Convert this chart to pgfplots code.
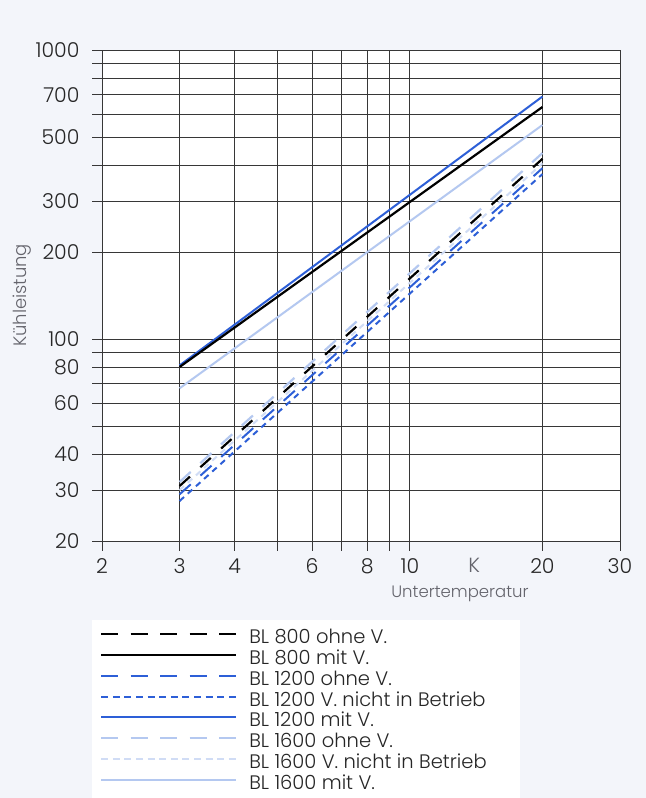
\documentclass[border=0pt]{standalone}
\usepackage{fontspec}
\IfFontExistsTF{Poppins Light}{\setmainfont{Poppins Light}}{\setmainfont{Poppins}}
\usepackage{pgfplots}
\pgfplotsset{compat=1.18}
\definecolor{cblue}{RGB}{45,95,215}
\definecolor{clight}{RGB}{180,200,240}
\definecolor{clighter}{RGB}{208,220,245}
\definecolor{gridc}{RGB}{55,55,55}
\definecolor{labc}{RGB}{100,100,108}
\definecolor{bgc}{RGB}{243,245,250}
\begin{document}
\begin{tikzpicture}[x=1bp,y=1bp]
\path[use as bounding box, fill=bgc] (0,0) rectangle (646,798);
\fill[white] (92,0) rectangle (520,178);
\begin{axis}[
 at={(102bp,257bp)}, anchor=south west,
 scale only axis, width=518bp, height=491bp,
 xmode=log, ymode=log,
 xmin=2, xmax=30, ymin=20, ymax=1000,
 axis background/.style={fill=white},
 xtick={2,3,4,5,6,7,8,9,10,20,30},
 xticklabels={2,3,4,,6,,8,,10,20,30},
 ytick={20,30,40,50,60,70,80,90,100,200,300,400,500,600,700,800,900,1000},
 yticklabels={20,30,40,,60,,80,,100,200,300,,500,,700,,,1000},
 minor xtick={}, minor ytick={},
 extra x ticks={14}, extra x tick labels={K},
 extra x tick style={grid=none, major tick style={draw=none}, tick label style={text=labc}},
 grid=major, grid style={gridc, line width=0.9bp},
 axis line style={gridc, line width=0.9bp},
 tick style={gridc, line width=0.9bp},
 tick align=outside, tick pos=left, major tick length=10bp,
 /pgf/number format/assume math mode=true,
 tick label style={font=\fontsize{20.5bp}{23bp}\selectfont, text=black!85},
 xticklabel style={yshift=-4bp},
 yticklabel style={xshift=-9bp},
 xlabel={Untertemperatur}, ylabel={Kühleistung},
 label style={text=labc},
 xlabel style={font=\fontsize{16.5bp}{18bp}\selectfont, at={(axis description cs:0.691,-0.108)}, anchor=center},
 ylabel style={font=\fontsize{18bp}{20bp}\selectfont, at={(axis description cs:-0.155,0.5)}, anchor=center},
 legend style={at={(axis description cs:-0.004,-0.1784)}, anchor=north west,
   draw=none, fill=none, font=\fontsize{19.5bp}{21bp}\selectfont, text=black!85,
   cells={anchor=west}, row sep=0pt, inner sep=0pt,
   nodes={inner sep=1bp, text height=14bp, text depth=4.8bp}},
 legend image code/.code={\draw[#1] (0bp,5bp) -- (135bp,5bp); \path (146bp,5bp);},
]
% drawn in stacking order
\addplot[clighter, line width=2bp, dash pattern=on 6bp off 5bp, forget plot] coordinates {(3,30) (20,405)};
\addplot[clight, line width=2.2bp, dash pattern=on 15bp off 13bp, forget plot] coordinates {(3,32) (20,440)};
\addplot[cblue, line width=2bp, dash pattern=on 15bp off 13bp, forget plot] coordinates {(3,29) (20,390)};
\addplot[cblue, line width=2bp, dash pattern=on 6bp off 5bp, forget plot] coordinates {(3,27.5) (20,372)};
\addplot[black, line width=2.2bp, dash pattern=on 14bp off 14bp, forget plot] coordinates {(3,31) (20,420)};
\addplot[clight, line width=2bp, forget plot] coordinates {(3,67.5) (20,550)};
\addplot[cblue, line width=2bp, forget plot] coordinates {(3,81) (20,690)};
\addplot[black, line width=2.2bp, forget plot] coordinates {(3,80) (20,635)};
% legend
\addlegendimage{black, line width=2.2bp, dash pattern=on 17bp off 12.5bp}
\addlegendentry{BL 800 ohne V.}
\addlegendimage{black, line width=2.2bp}
\addlegendentry{BL 800 mit V.}
\addlegendimage{cblue, line width=2bp, dash pattern=on 17bp off 12.5bp}
\addlegendentry{BL 1200 ohne V.}
\addlegendimage{cblue, line width=2bp, dash pattern=on 7bp off 4.6bp}
\addlegendentry{BL 1200 V. nicht in Betrieb}
\addlegendimage{cblue, line width=2bp}
\addlegendentry{BL 1200 mit V.}
\addlegendimage{clight, line width=2bp, dash pattern=on 17bp off 12.5bp}
\addlegendentry{BL 1600 ohne V.}
\addlegendimage{clighter, line width=2bp, dash pattern=on 7bp off 4.6bp}
\addlegendentry{BL 1600 V. nicht in Betrieb}
\addlegendimage{clight, line width=2bp}
\addlegendentry{BL 1600 mit V.}
\end{axis}
\end{tikzpicture}
\end{document}
